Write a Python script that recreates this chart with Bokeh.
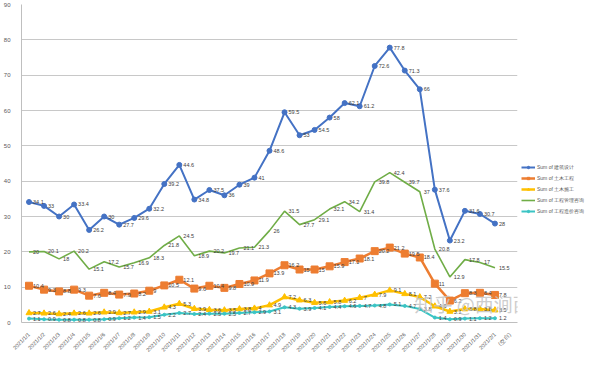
from bokeh.plotting import figure
from bokeh.models import FactorRange, Range1d, Legend, LegendItem, Label, FixedTicker
from bokeh.core.properties import value
from bokeh.embed import file_html
from bokeh.resources import INLINE
import math

dates = [f"2021/1/{i}" for i in range(1, 32)] + ["2021/2/1"]
categories = dates + ["(空白)"]

names = ["Sum of 建筑设计", "Sum of 土木工程", "Sum of 土木施工", "Sum of 工程管理咨询", "Sum of 工程造价咨询"]

blue = [34.1, 33, 30, 33.4, 26.2, 30, 27.7, 29.6, 32.2, 39.2, 44.6, 34.8, 37.5, 36, 39, 41,
        48.6, 59.5, 53, 54.5, 58, 62.1, 61.2, 72.6, 77.8, 71.3, 66, 37.6, 23.2, 31.6, 30.7, 28]
orange = [10.4, 9.3, 8.8, 9.3, 7.6, 8.4, 7.9, 8.2, 9, 10.5, 12.1, 9.6, 10.4, 9.8, 10.9, 11.9,
          13.9, 16.2, 15, 15, 15.9, 17.1, 18.1, 20.2, 21.2, 19.5, 18.4, 11, 6.2, 8.3, 8.4, 7.8]
yellow = [2.7, 2.6, 2.4, 2.6, 2.6, 2.9, 2.7, 2.9, 3.1, 4.3, 5.3, 3.9, 3.6, 3.5, 3.8, 4,
          4.9, 7.2, 6.3, 5.6, 5.8, 6.2, 7, 7.9, 9.1, 8.1, 7.2, 4.6, 3.1, 3.8, 3.8, 3.5]
green = [20, 20.1, 18, 20.2, 15.1, 17.2, 15.7, 16.9, 18.3, 21.8, 24.5, 18.9, 20.2, 19.7, 21.1, 21.3,
         26, 31.5, 27.7, 29.1, 32.1, 34.2, 31.4, 39.8, 42.4, 39.7, 37, 20.8, 12.9, 17.8, 17, 15.5]
teal = [1.1, 0.9, 0.8, 0.8, 0.8, 0.9, 1.2, 1.4, 1.5, 2.2, 2.7, 2.4, 2.5, 2.5, 2.7, 2.9,
        3.1, 4.3, 3.9, 4.1, 4.4, 4.6, 4.7, 4.8, 5.1, 4.7, 3.8, 1.4, 0.9, 1.1, 1.2, 1.2]

y_ticks = list(range(0, 91, 10))

colors = ["#4472C4", "#ED7D31", "#FFC000", "#70AD47", "#3BC4C4"]
FONT = "Liberation Sans"

p = figure(frame_width=496, frame_height=318, x_range=FactorRange(*categories), y_range=Range1d(0, 90),
           output_backend="svg", toolbar_location=None,
           min_border_left=4, min_border_right=2, min_border_top=4, min_border_bottom=2)
p.outline_line_color = None
p.background_fill_color = "white"

p.yaxis.ticker = FixedTicker(ticks=y_ticks)
p.yaxis.major_label_text_font_size = "6px"
p.yaxis.major_label_text_color = "#595959"
p.yaxis.major_label_text_font = FONT
p.yaxis.major_tick_line_color = None
p.yaxis.minor_tick_line_color = None
p.yaxis.axis_line_color = "#bfbfbf"

p.xaxis.major_label_orientation = math.pi / 4
p.xaxis.major_label_text_font_size = "5.5px"
p.xaxis.major_label_text_color = "#595959"
p.xaxis.major_label_text_font = FONT
p.xaxis.major_tick_line_color = None
p.xaxis.axis_line_color = "#bfbfbf"
p.xgrid.grid_line_color = None
p.ygrid.grid_line_color = "#c8c8c8"
p.ygrid.grid_line_width = 1

def fmt(v):
    return f"{v:g}"

series = [blue, orange, yellow, green, teal]
markers = ["circle", "square", "triangle", None, "circle"]
msizes = [5, 7, 6, 0, 3]
lwidths = [2, 2.5, 2.5, 1.6, 2]
items = []
for name, vals, c, m, ms, lw in zip(names, series, colors, markers, msizes, lwidths):
    r = [p.line(x=dates, y=vals, line_color=c, line_width=lw)]
    if m:
        r.append(p.scatter(x=dates, y=vals, marker=m, size=ms, fill_color=c, line_color=c))
    p.text(x=dates, y=vals, text=[fmt(v) for v in vals], x_offset=4, text_baseline="middle",
           text_font_size="5.5px", text_color="#404040", text_font=value(FONT))
    items.append(LegendItem(label=name, renderers=r))

legend = Legend(items=items, location=(4, 108), label_text_font_size="5px",
                label_text_color="#595959", label_text_font=FONT,
                glyph_width=14, glyph_height=6, label_height=6, spacing=5, padding=2,
                border_line_color=None, background_fill_alpha=0, label_standoff=2)
p.add_layout(legend, "right")

p.add_layout(Label(x=393, y=6, x_units="screen", y_units="screen", text="知乎 @西涧西山居",
                   text_font="Noto Sans CJK SC", text_font_size="19px",
                   text_color="#c4c4c4", text_alpha=0.85))

open("out.html", "w").write(file_html(p, INLINE))
